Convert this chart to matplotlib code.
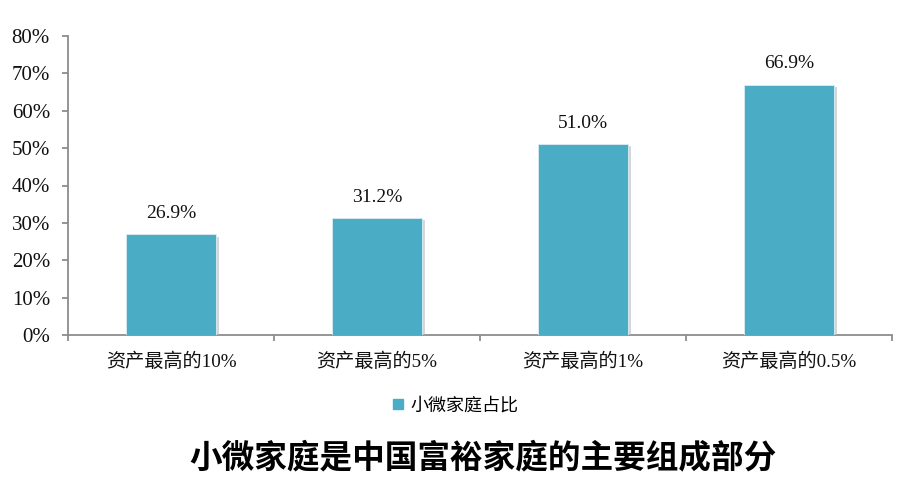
import matplotlib
matplotlib.use("Agg")
import matplotlib.pyplot as plt
import matplotlib.patheffects as pe
from matplotlib.ticker import FixedLocator, PercentFormatter
from matplotlib.lines import Line2D

categories = ["资产最高的10%", "资产最高的5%", "资产最高的1%", "资产最高的0.5%"]
values = [26.9, 31.2, 51.0, 66.9]
value_labels = ["26.9%", "31.2%", "51.0%", "66.9%"]
series_name = "小微家庭占比"
title = "小微家庭是中国富裕家庭的主要组成部分"
yticks = [0, 10, 20, 30, 40, 50, 60, 70, 80]

plt.rcParams['font.family'] = ['Liberation Serif', 'Noto Sans CJK SC']

bar_color = "#4BACC6"
axis_color = "#8C8C8C"

fig = plt.figure(figsize=(9.1, 4.82), dpi=100)
ax = fig.add_axes([68/910, 1-335/482, (892-68)/910, (335-36)/482])

x = list(range(len(categories)))
bars = ax.bar(x, values, width=0.435, color=bar_color, edgecolor="#D9EEF4", linewidth=0.6, zorder=3,
              path_effects=[pe.SimplePatchShadow(offset=(2, -1.5), shadow_rgbFace="#BBBBBB", alpha=0.6), pe.Normal()])

for xi, v, lab in zip(x, values, value_labels):
    ax.annotate(lab, (xi, v), xytext=(0, 9), textcoords="offset points", ha="center", va="bottom",
                fontsize=14, color="#111111")

ax.set_xlim(-0.5, len(categories) - 0.5)
ax.set_ylim(0, 80)
ax.set_yticks(yticks)
ax.yaxis.set_major_formatter(PercentFormatter(decimals=0))
ax.set_xticks(x)
ax.set_xticklabels(categories, fontsize=13.8)
ax.xaxis.set_minor_locator(FixedLocator([i + 0.5 for i in range(-1, len(categories))]))
ax.tick_params(axis="x", which="major", length=0, pad=13, colors="#111111")
ax.tick_params(axis="x", which="minor", length=4, width=1.3, color=axis_color)
ax.tick_params(axis="y", length=4, width=1.3, color=axis_color, pad=9, labelsize=15, labelcolor="#111111")

for s in ["top", "right"]:
    ax.spines[s].set_visible(False)
for s in ["left", "bottom"]:
    ax.spines[s].set_color(axis_color)
    ax.spines[s].set_linewidth(1.3)

handle = Line2D([], [], marker="s", linestyle="none", markersize=7, markerfacecolor=bar_color,
                markeredgecolor=bar_color)
fig.legend([handle], [series_name], loc="center", bbox_to_anchor=(454/910, 1-406/482), frameon=False,
           fontsize=13, handletextpad=0.2, handlelength=1.0)

fig.text(483/910, 1-458/482, title, ha="center", va="center", fontsize=23.5, fontweight="bold",
         family=['Noto Sans CJK SC'], color="#000000")

fig.savefig("out.png", dpi=100)
